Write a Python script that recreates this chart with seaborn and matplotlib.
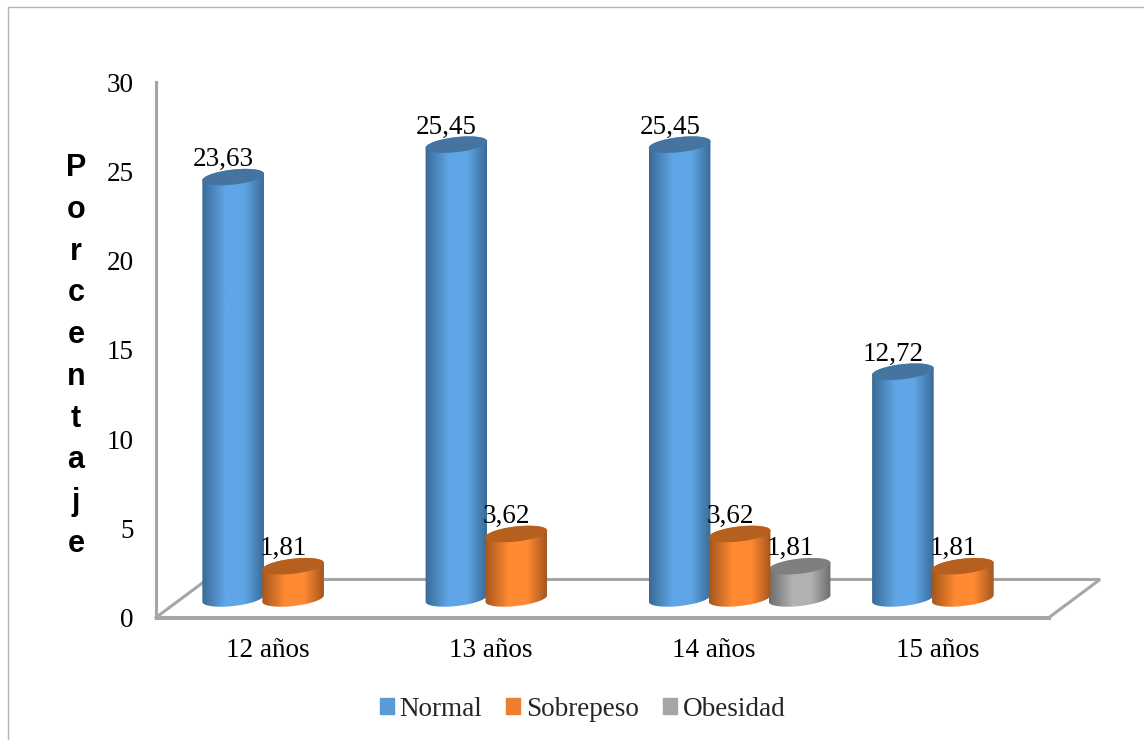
import numpy as np
import pandas as pd
import matplotlib
matplotlib.use("Agg")
import matplotlib.pyplot as plt
import seaborn as sns
from matplotlib.colors import LinearSegmentedColormap
from matplotlib.lines import Line2D
from matplotlib.patches import Polygon

# Values per age group; NaN marks a category with no cases
edades = ["12 años", "13 años", "14 años", "15 años"]
normal = [23.63, 25.45, 25.45, 12.72]
sobrepeso = [1.81, 3.62, 3.62, 1.81]
obesidad = [np.nan, np.nan, 1.81, np.nan]
escala = [0, 5, 10, 15, 20, 25, 30]
series = ["Normal", "Sobrepeso", "Obesidad"]
eje_y = "Porcentaje"

W, H = 1144, 740
colores = ["#5B9BD5", "#ED7D31", "#A5A5A5"]
sombreado = [
    ("#3A6A96", "#5FA6E6", "#44749F"),
    ("#A4561B", "#FF8A33", "#B5601F"),
    ("#6C6C6C", "#B2B2B2", "#7F7F7F"),
]
GRIS = "#A6A6A6"
LETRA = 19.5

sns.set_theme(style="white")
plt.rcParams["font.family"] = ["Liberation Serif", "DejaVu Sans"]

fig = plt.figure(figsize=(W / 100, H / 100), dpi=100, facecolor="white")


def caja(x0, y_bottom, x1, y_top):
    return [x0 / W, 1 - y_bottom / H, (x1 - x0) / W, (y_bottom - y_top) / H]


# Front plane carries the scale and category labels
frente = fig.add_axes(caja(156, 617.5, 1049, 82.5))
frente.set_xlim(-0.5, 3.5)
frente.set_ylim(0, 30)
frente.set_facecolor("none")
frente.set_yticks(escala)
frente.set_xticks(range(len(edades)), edades)
frente.tick_params(axis="y", length=0, pad=16, labelsize=LETRA, colors="black")
frente.tick_params(axis="x", length=0, pad=15, labelsize=LETRA, colors="black")
for lado in ("top", "right"):
    frente.spines[lado].set_visible(False)
for lado in ("left", "bottom"):
    frente.spines[lado].set_color(GRIS)
    frente.spines[lado].set_linewidth(2.2)

PX_X = 893 / 4
PX_Y = 535 / 30

# Floor of the 3-D box, receding up and to the right
dx, dy = 51 / PX_X, 38 / PX_Y
frente.plot([-0.5, -0.5 + dx, 3.5 + dx, 3.5, -0.5], [0, dy, dy, 0, 0],
            color=GRIS, lw=2.2, clip_on=False, solid_joinstyle="miter")

# Bars sit halfway into the box depth
ax = fig.add_axes(caja(181.5, 598.5, 1074.5, 63.5))
tabla = pd.DataFrame({"edad": edades, series[0]: normal, series[1]: sobrepeso, series[2]: obesidad})
largo = tabla.melt(id_vars="edad", var_name="grupo", value_name="valor")
sns.barplot(data=largo, x="edad", y="valor", hue="grupo", order=edades, hue_order=series,
            palette=colores, width=0.806, errorbar=None, saturation=1, ax=ax)
ax.set_xlim(-0.5, 3.5)
ax.set_ylim(0, 30)
ax.set_axis_off()
ax.patch.set_alpha(0)

RADIO_Y = 7.5
GIRO = np.radians(6.5)


def elipse(cx, cy, rx, t):
    ex = rx * np.cos(t) * np.cos(GIRO) - RADIO_Y * np.sin(t) * np.sin(GIRO)
    ey = rx * np.cos(t) * np.sin(GIRO) + RADIO_Y * np.sin(t) * np.cos(GIRO)
    return np.column_stack([cx + ex / PX_X, cy + ey / PX_Y])


def cilindro(barra, tonos, z):
    borde, centro, tapa = tonos
    x = barra.get_x()
    ancho = barra.get_width()
    alto = barra.get_height()
    cx = x + ancho / 2
    rx = ancho * PX_X / 2 + 1
    t0 = np.arctan2(-RADIO_Y * np.sin(GIRO), rx * np.cos(GIRO))
    arriba = elipse(cx, alto, rx, np.linspace(t0, t0 + np.pi, 60))
    abajo = elipse(cx, 0, rx, np.linspace(t0 + np.pi, t0 + 2 * np.pi, 60))
    contorno = Polygon(np.vstack([arriba, abajo]), closed=True, facecolor="none",
                       edgecolor="none", transform=ax.transData)
    ax.add_patch(contorno)
    # Cylinder shading: dark near the rims, bright band in the middle
    mapa = LinearSegmentedColormap.from_list(
        "c", [(0, borde), (0.38, centro), (0.68, centro), (1, borde)], N=256)
    rampa = np.linspace(0, 1, 256).reshape(1, -1)
    img = ax.imshow(rampa, cmap=mapa, aspect="auto", zorder=z, interpolation="bilinear",
                    extent=[cx - rx / PX_X, cx + rx / PX_X, -12 / PX_Y, alto + 12 / PX_Y])
    img.set_clip_box(fig.bbox)
    img.set_clip_path(contorno)
    ax.add_patch(Polygon(elipse(cx, alto, rx, np.linspace(0, 2 * np.pi, 90)), closed=True,
                         facecolor=tapa, edgecolor="none", zorder=z + 0.1))


orden_z = [3, 5, 4]
for grupo, contenedor in enumerate(ax.containers):
    for barra in contenedor:
        if np.isnan(barra.get_height()):
            continue
        cilindro(barra, sombreado[grupo], orden_z[grupo])
        barra.set_alpha(0)
        texto = f"{barra.get_height():.2f}".replace(".", ",")
        ax.annotate(texto, (barra.get_x() + barra.get_width() / 2, barra.get_height()),
                    xytext=(-7, 12.5), textcoords="offset points", ha="center", va="center",
                    fontsize=LETRA, color="black", zorder=10, annotation_clip=False)
ax.set_xlim(-0.5, 3.5)
ax.set_ylim(0, 30)

# Legend row below the chart
asas = [plt.Rectangle((0, 0), 1, 1, color=c) for c in colores]
ax.legend(asas, series, ncol=3, loc="center", bbox_to_anchor=(582.5 / W, 1 - 709 / H),
          bbox_transform=fig.transFigure, frameon=False, fontsize=LETRA, handlelength=0.52,
          handleheight=0.52, handletextpad=0.22, columnspacing=0.87, borderpad=0, borderaxespad=0)

# Vertical axis title, one letter per line
fig.text(76 / W, 1 - 356 / H, "\n".join(eje_y), family="Liberation Sans", fontweight="bold",
         fontsize=22, ha="center", va="center", ma="center", linespacing=1.51, color="black")

# Chart frame, visible along the top and left edges
fig.add_artist(Line2D([8 / W, 8 / W, 1], [0, 1 - 7 / H, 1 - 7 / H],
                      transform=fig.transFigure, color="#B4B4B4", lw=1))

fig.savefig("out.png", dpi=100, facecolor="white")
